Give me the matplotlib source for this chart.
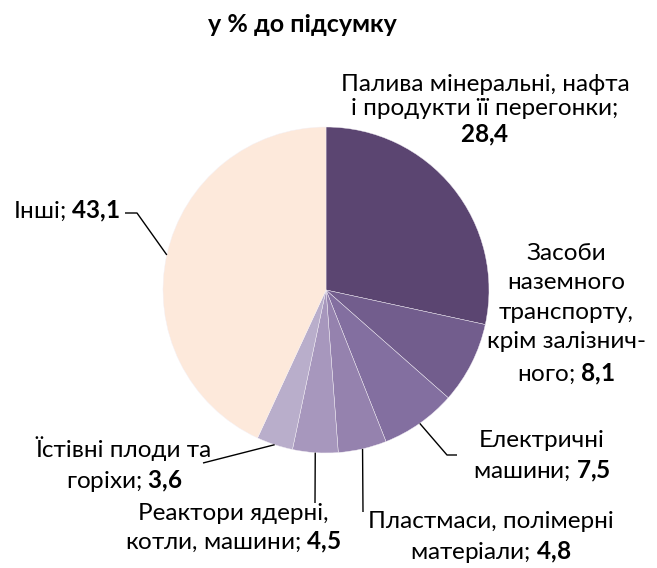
import numpy as np
import matplotlib.pyplot as plt

plt.rcParams['font.family'] = ['Lato', 'DejaVu Sans']
plt.rcParams['mathtext.fontset'] = 'custom'
plt.rcParams['mathtext.rm'] = 'Lato'
plt.rcParams['mathtext.bf'] = 'Lato:bold'

# data (clockwise from 12 o'clock)
names = [
    'Палива мінеральні, нафта\nі продукти її перегонки;\n',
    'Засоби\nназемного\nтранспорту,\nкрім залізнич-\nного; ',
    'Електричні\nмашини; ',
    'Пластмаси, полімерні\nматеріали; ',
    'Реактори ядерні,\nкотли, машини; ',
    'Їстівні плоди та\nгоріхи; ',
    'Інші; ',
]
values = [28.4, 8.1, 7.5, 4.8, 4.5, 3.6, 43.1]
colors = ['#5b4571', '#725d8d', '#836fa0', '#9582ae', '#a797bd', '#b9aecb', '#fde9db']

# layout, in pixels of the 657x568 picture
W, H = 657, 568
cx, cy, R = 326, 290, 163
label_pos = [(485, 111), (566, 315), (542, 457), (491, 538), (233, 529), (124, 465), (67, 211)]
spacing = [1.2, 1.5, 1.38, 1.38, 1.3, 1.38, 1.3]
leader = [None, None, [(447, 455), (457, 455)], [(363, 512)], [(315, 503)],
          [(203, 463)], [(137, 213), (125, 213)]]


def px(x, y):
    return (x - cx) / R, (cy - y) / R


fig = plt.figure(figsize=(W / 100, H / 100), dpi=100)
ax = fig.add_axes([0, 0, 1, 1])

wedges, _ = ax.pie(values, colors=colors, startangle=90, counterclock=False,
                   radius=1, wedgeprops=dict(edgecolor='#f4f0f6', linewidth=0.3))

ax.set_xlim(-cx / R, (W - cx) / R)
ax.set_ylim((cy - H) / R, cy / R)
ax.set_aspect('equal')
ax.axis('off')

for i, w in enumerate(wedges):
    val = f'{values[i]:.1f}'.replace('.', '{,}')
    txt = names[i] + r'$\mathbf{' + val + '}$'
    x, y = px(*label_pos[i])
    ax.text(x, y, txt, ha='center', va='center', fontsize=17.5,
            linespacing=spacing[i], color='black')
    if leader[i] is not None:
        ang = np.deg2rad((w.theta1 + w.theta2) / 2)
        xs = [np.cos(ang)]
        ys = [np.sin(ang)]
        for p in leader[i]:
            lx, ly = px(*p)
            xs.append(lx)
            ys.append(ly)
        ax.plot(xs, ys, color='black', lw=1.0, solid_capstyle='butt')

fig.text(302 / W, 1 - 25 / H, 'у % до підсумку', ha='center', va='center',
         fontsize=18, fontweight='bold')

fig.savefig('out.png', dpi=100)
